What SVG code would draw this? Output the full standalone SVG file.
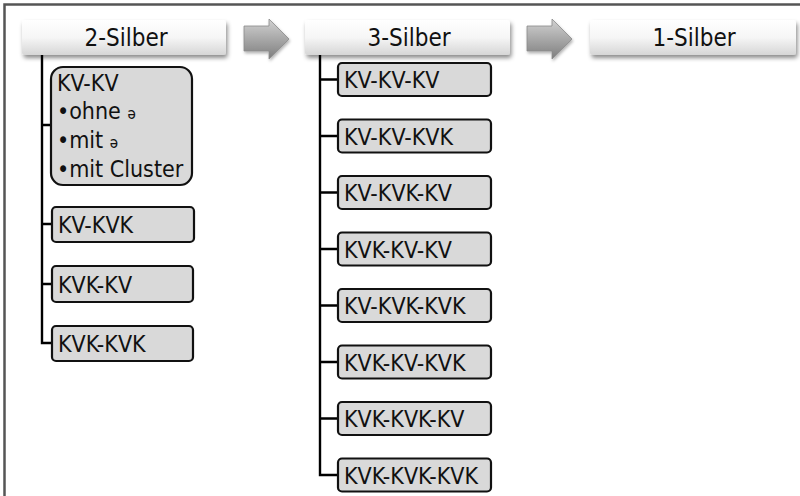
<svg xmlns="http://www.w3.org/2000/svg" width="800" height="496" viewBox="0 0 800 496">
<style>
text{font-family:"DejaVu Sans Condensed","DejaVu Sans","Liberation Sans",sans-serif;fill:#111}
.h{font-size:24px;text-anchor:middle}
.b{font-size:23px}
.box{fill:#d9d9d9;stroke:#111;stroke-width:2.2}
.hdr{fill:url(#hg);filter:url(#sh)}
.ln{stroke:#000;stroke-width:2.4;fill:none}
.arr{fill:url(#ag);stroke:#8a8a8a;stroke-width:0.8;filter:url(#sh2)}
.sm{font-size:15px}
</style>
<defs>
<linearGradient id="hg" x1="0" y1="0" x2="0" y2="1">
<stop offset="0" stop-color="#ffffff"/>
<stop offset="0.5" stop-color="#f6f6f6"/>
<stop offset="1" stop-color="#d6d6d6"/>
</linearGradient>
<linearGradient id="ag" x1="0" y1="0" x2="0" y2="1">
<stop offset="0" stop-color="#d2d2d2"/>
<stop offset="0.5" stop-color="#a8a8a8"/>
<stop offset="1" stop-color="#7e7e7e"/>
</linearGradient>
<filter id="sh" x="-10%" y="-30%" width="120%" height="180%">
<feDropShadow dx="1.5" dy="3" stdDeviation="2" flood-color="#000" flood-opacity="0.45"/>
</filter>
<filter id="sh2" x="-20%" y="-20%" width="150%" height="160%">
<feDropShadow dx="1" dy="2" stdDeviation="1.5" flood-color="#000" flood-opacity="0.3"/>
</filter>
</defs>
<rect width="800" height="496" fill="#fff"/>
<path d="M4.5 496V4.5H800" fill="none" stroke="#555" stroke-width="2.5"/>

<g id="connectors">
<path class="ln" d="M42 55V343H52M42 125H52M42 224H52M42 284H52"/>
<path class="ln" d="M320 55V475H338M320 79.5H338M320 136H338M320 192.5H338M320 249H338M320 305.5H338M320 362H338M320 418.5H338"/>
</g>

<g id="arrow1"><path class="arr" d="M244 26H269V19L289 39L269 59V51H244Z"/></g>
<g id="arrow2"><path class="arr" d="M527 26H552V19L572 39L552 59V51H527Z"/></g>

<g id="h2"><rect class="hdr" x="22" y="20" width="204" height="35" rx="3"/><text class="h" x="126" y="46">2-Silber</text></g>
<g id="h3"><rect class="hdr" x="305" y="20" width="205" height="35" rx="3"/><text class="h" x="409" y="46">3-Silber</text></g>
<g id="h1"><rect class="hdr" x="590" y="20" width="206" height="35" rx="3"/><text class="h" x="694" y="46">1-Silber</text></g>

<g id="kvkv"><rect class="box" x="51" y="67" width="141" height="118" rx="12"/>
<text class="b" x="57" y="91">KV-KV</text>
<text class="b" x="57" y="119">•ohne <tspan class="sm">ə</tspan></text>
<text class="b" x="57" y="148">•mit <tspan class="sm">ə</tspan></text>
<text class="b" x="57" y="177">•mit Cluster</text></g>
<g id="kvkvk"><rect class="box" x="52" y="207" width="142" height="35" rx="4"/><text class="b" x="58" y="233">KV-KVK</text></g>
<g id="kvkkv"><rect class="box" x="52" y="266" width="141" height="36" rx="4"/><text class="b" x="58" y="293">KVK-KV</text></g>
<g id="kvkkvk"><rect class="box" x="52" y="326" width="141" height="35" rx="4"/><text class="b" x="58" y="352">KVK-KVK</text></g>

<g id="t1"><rect class="box" x="338" y="63" width="153" height="33" rx="4"/><text class="b" x="344" y="88">KV-KV-KV</text></g>
<g id="t2"><rect class="box" x="338" y="119.5" width="153" height="33" rx="4"/><text class="b" x="344" y="144.5">KV-KV-KVK</text></g>
<g id="t3"><rect class="box" x="338" y="176" width="153" height="33" rx="4"/><text class="b" x="344" y="201">KV-KVK-KV</text></g>
<g id="t4"><rect class="box" x="338" y="232.5" width="153" height="33" rx="4"/><text class="b" x="344" y="257.5">KVK-KV-KV</text></g>
<g id="t5"><rect class="box" x="338" y="289" width="153" height="33" rx="4"/><text class="b" x="344" y="314">KV-KVK-KVK</text></g>
<g id="t6"><rect class="box" x="338" y="345.5" width="153" height="33" rx="4"/><text class="b" x="344" y="370.5">KVK-KV-KVK</text></g>
<g id="t7"><rect class="box" x="338" y="402" width="153" height="33" rx="4"/><text class="b" x="344" y="427">KVK-KVK-KV</text></g>
<g id="t8"><rect class="box" x="338" y="458.5" width="153" height="33" rx="4"/><text class="b" x="344" y="483.5">KVK-KVK-KVK</text></g>
</svg>
